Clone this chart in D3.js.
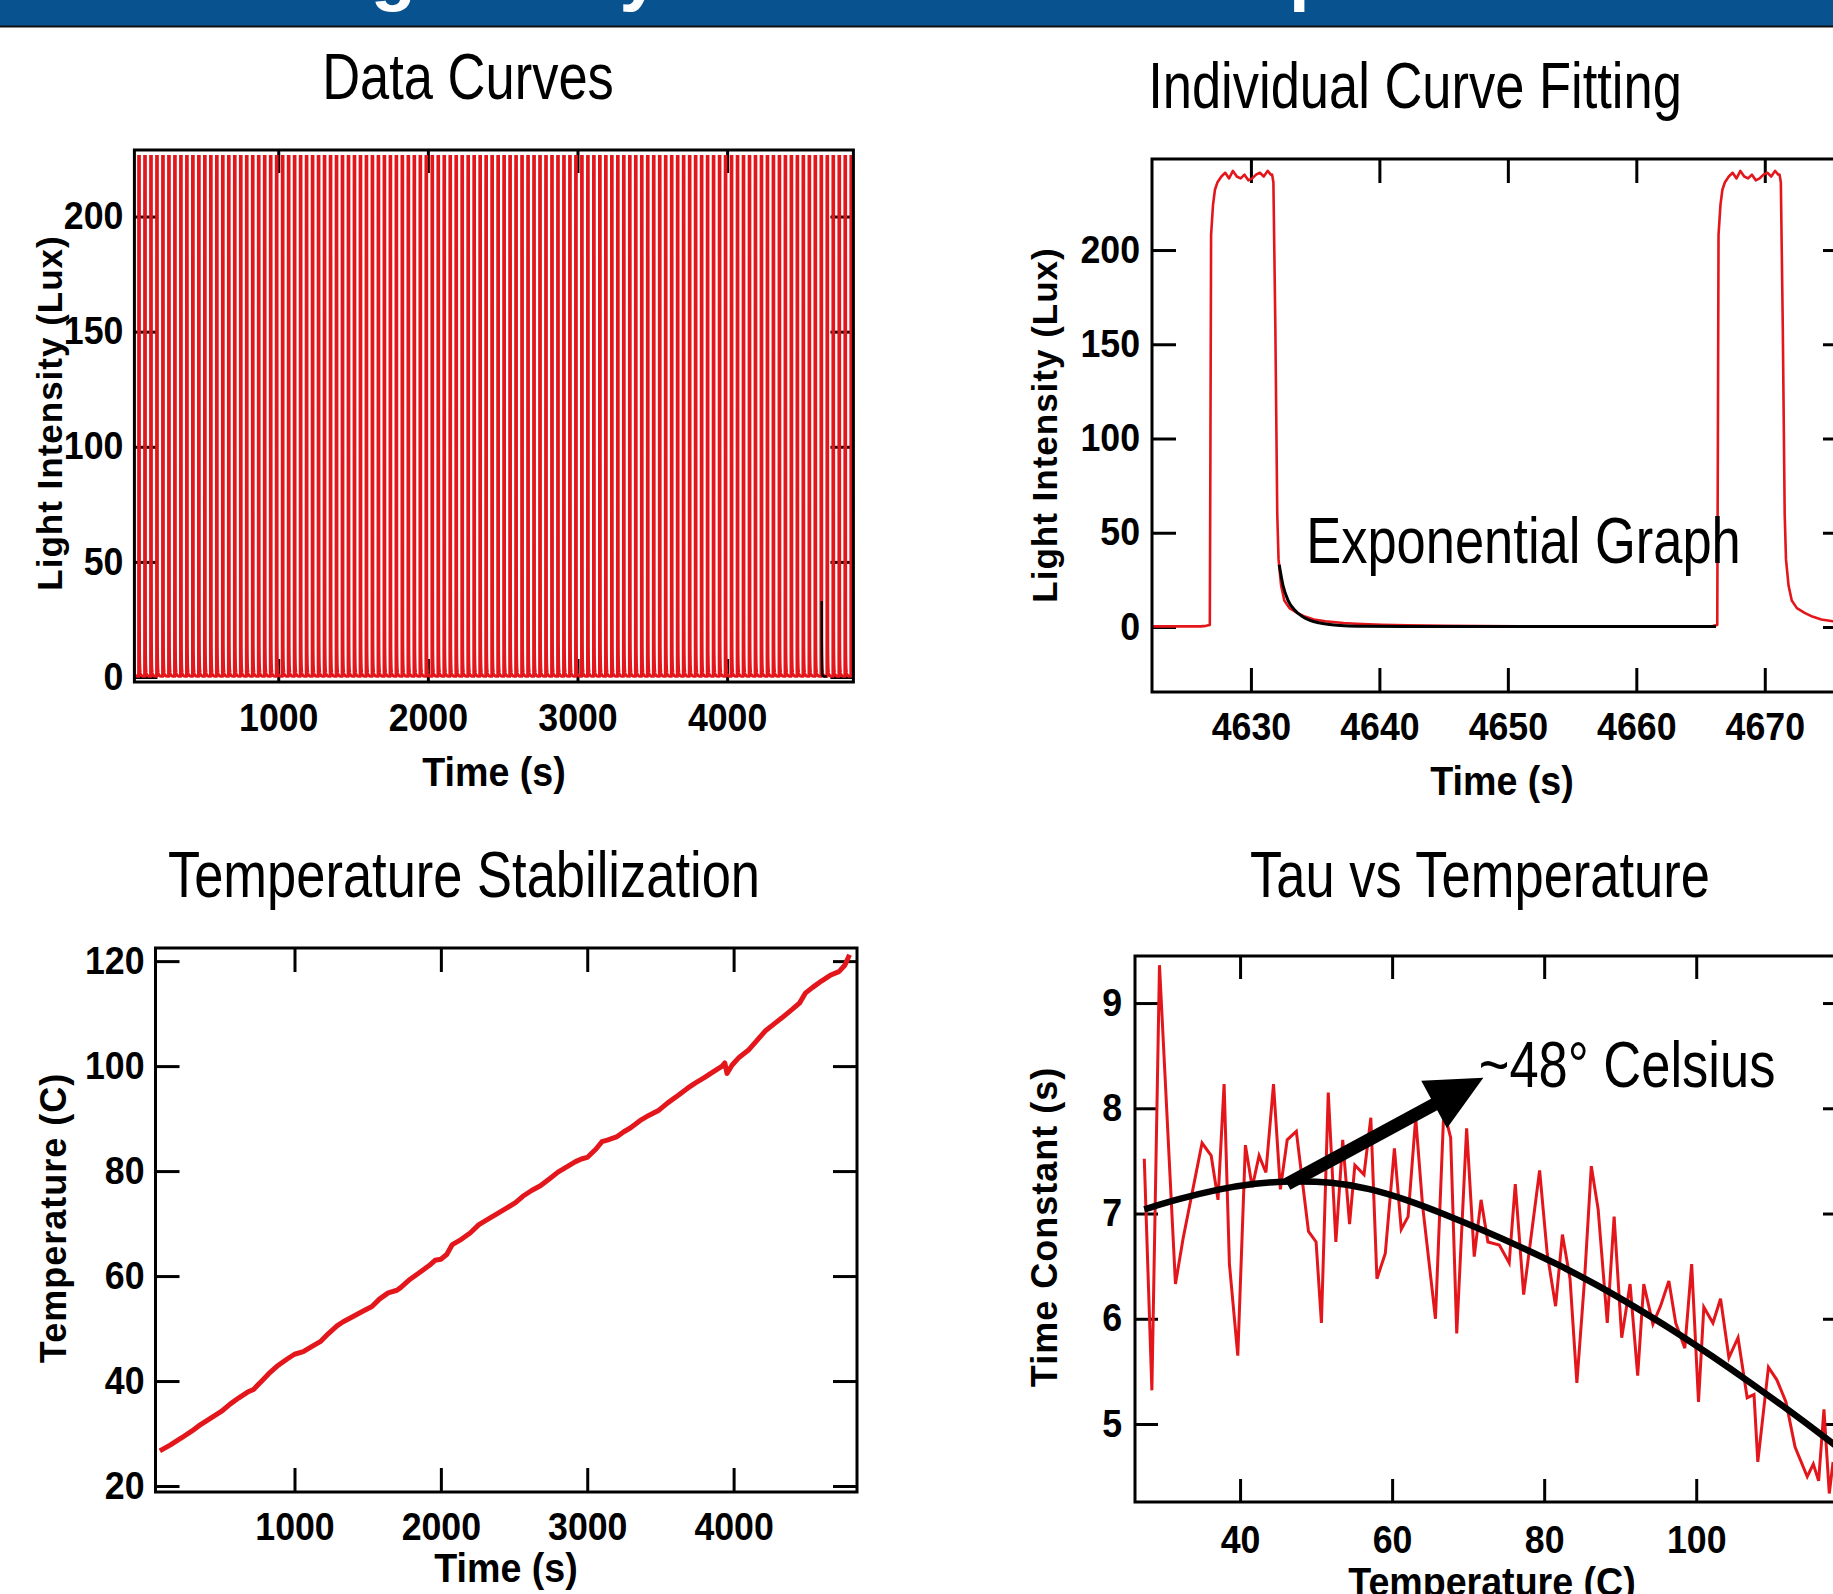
<!DOCTYPE html>
<html>
<head>
<meta charset="utf-8">
<script src="https://cdn.jsdelivr.net/npm/d3@7"></script>
<style>
  body { margin: 0; background: #fff; }
  svg { display: block; }
  text { font-family: 'Liberation Sans', Arial, sans-serif; }
</style>
</head>
<body>
<div id="chart"></div>
<script>
// ---- data ----

// slide header (only the bottom of the glyphs shows)
const headerText = 'Finding Decay Constant vs Temperature';

const panelTitles = ['Data Curves', 'Individual Curve Fitting', 'Temperature Stabilization', 'Tau vs Temperature'];

// onset time (s) of each light pulse in the full run
const pulseOnsets = [27, 67, 107, 147, 187, 227, 267, 307, 347, 387, 427, 467, 507, 547, 587, 627, 667, 707, 747, 787,
  827, 867, 907, 947, 987, 1027, 1067, 1107, 1147, 1187, 1227, 1267, 1307, 1347, 1387, 1427, 1467, 1507, 1547, 1587,
  1627, 1667, 1707, 1747, 1787, 1827, 1867, 1907, 1947, 1987, 2027, 2067, 2107, 2147, 2187, 2227, 2267, 2307, 2347, 2387,
  2427, 2467, 2507, 2547, 2587, 2627, 2667, 2707, 2747, 2787, 2827, 2867, 2907, 2947, 2987, 3027, 3067, 3107, 3147, 3187,
  3227, 3267, 3307, 3347, 3387, 3427, 3467, 3507, 3547, 3587, 3627, 3667, 3707, 3747, 3787, 3827, 3867, 3907, 3947, 3987,
  4027, 4067, 4107, 4147, 4187, 4227, 4267, 4307, 4347, 4387, 4427, 4467, 4507, 4547, 4587, 4627, 4667, 4707, 4747, 4787, 4827];

// one pulse, time after onset (s) and light (Lux)
const pulseDt = [-0.3, 0, 0.05, 0.1, 0.25, 0.4, 0.6, 0.9, 1.2, 1.5, 1.8, 2.1, 2.4, 2.7, 3.0, 3.3, 3.6, 3.9, 4.2, 4.5, 4.75,
  4.85, 4.95, 5.1, 5.25, 5.35, 5.55, 5.8, 6.2, 6.8, 7.4, 8.1, 9.0, 10.4, 11.4, 13.4, 15.4, 18.4, 24, 30, 39.3];
const pulseLux = [0.6, 1, 100, 208, 224, 232, 236, 239, 241, 238, 242, 239, 238, 240, 237, 238, 240, 241, 239, 242, 240,
  240, 236, 160, 60, 36, 22, 14, 10, 7.5, 5.5, 4, 3, 2.1, 1.7, 1.2, 0.9, 0.6, 0.4, 0.3, 0.3];

// exponential fit of the decay, same time base
const fitDt = [5.4, 5.7, 6.1, 6.6, 7.2, 7.8, 8.5, 9.5, 10.5, 12, 15, 20, 30, 39.4];
const fitLux = [33, 22, 14, 9, 5.5, 3.5, 2.2, 1.2, 0.7, 0.4, 0.25, 0.2, 0.2, 0.2];

const fitOnset = 4627;
const zoomOnsets = [4586.8, 4626.8, 4666.3];
const zoomFitOnset = 4626.8;

// temperature ramp
const tempTime = [80, 150, 230, 300, 353, 420, 500, 560, 620, 680, 720, 780, 824, 880, 950, 1000, 1060, 1120, 1176, 1230,
  1290, 1333, 1400, 1460, 1529, 1580, 1640, 1700, 1725, 1790, 1850, 1920, 1960, 2000, 2040, 2078, 2140, 2200, 2260, 2314,
  2380, 2440, 2510, 2560, 2620, 2680, 2745, 2800, 2860, 2920, 2960, 3000, 3060, 3100, 3137, 3200, 3250, 3294, 3360, 3420,
  3490, 3550, 3620, 3686, 3740, 3800, 3860, 3922, 3940, 3955, 3990, 4039, 4100, 4160, 4220, 4275, 4330, 4400, 4450, 4490,
  4540, 4600, 4660, 4720, 4760, 4792];
const tempC = [26.7, 27.8, 29.2, 30.5, 31.6, 32.8, 34.2, 35.6, 36.8, 37.9, 38.4, 40.1, 41.4, 42.8, 44.2, 45.1, 45.6, 46.6, 47.5, 49.0,
  50.5, 51.3, 52.3, 53.2, 54.2, 55.6, 56.8, 57.3, 57.8, 59.4, 60.6, 62.0, 63.0, 63.2, 64.1, 66.0, 67.0, 68.2, 69.8, 70.7,
  71.8, 72.8, 74.0, 75.2, 76.3, 77.2, 78.6, 79.8, 80.8, 81.8, 82.3, 82.6, 84.2, 85.6, 85.9, 86.5, 87.5, 88.2, 89.6, 90.6,
  91.6, 93.0, 94.4, 95.8, 96.8, 97.8, 98.9, 100.0, 100.6, 98.6, 100.2, 101.7, 103.0, 104.9, 106.8, 108.0, 109.2, 110.8, 112.0, 113.9,
  115.0, 116.2, 117.3, 118.0, 119.2, 121.2];

// fitted time constant per pulse
const tauTemp = [27.4, 28.4, 29.4, 31.5, 32.5, 35.0, 36.2, 37.1, 37.9, 38.6, 39.7, 40.7, 41.6, 42.5, 43.4, 44.4, 45.3, 46.2, 47.4, 49.0,
  50.0, 50.7, 51.6, 52.6, 53.5, 54.4, 55.1, 56.3, 57.2, 58.0, 59.1, 60.3, 61.2, 62.1, 63.1, 64.0, 65.7, 66.8, 67.7, 68.5,
  69.8, 70.8, 71.7, 72.6, 74.1, 75.4, 76.2, 77.3, 79.4, 80.4, 81.5, 82.4, 83.4, 84.3, 85.3, 86.2, 87.1, 88.3, 89.2, 90.2,
  91.3, 92.3, 93.1, 94.3, 95.3, 96.4, 97.3, 98.5, 99.4, 100.3, 101.0, 102.2, 103.2, 104.3, 105.5, 106.7, 107.6, 108.1, 109.5, 110.6,
  111.8, 113.0, 114.6, 115.4, 116.1, 116.8, 117.5, 118.0];
const tauSec = [7.52, 5.32, 9.36, 6.33, 6.76, 7.67, 7.55, 7.13, 8.23, 6.52, 5.65, 7.65, 7.25, 7.55, 7.39, 8.23, 7.23, 7.70, 7.78, 6.83,
  6.73, 5.96, 8.15, 6.73, 7.70, 6.90, 7.46, 7.37, 7.91, 6.38, 6.62, 7.62, 6.85, 6.97, 7.91, 7.08, 6.00, 7.98, 7.72, 5.86,
  7.81, 6.59, 7.13, 6.73, 6.70, 6.53, 7.28, 6.23, 7.41, 6.62, 6.12, 6.80, 6.38, 5.39, 6.36, 7.45, 7.04, 5.96, 6.97, 5.82,
  6.33, 5.46, 6.33, 5.95, 6.12, 6.36, 5.96, 5.72, 6.52, 5.21, 6.11, 5.96, 6.19, 5.63, 5.82, 5.25, 5.28, 4.64, 5.54, 5.42,
  5.21, 4.78, 4.50, 4.62, 4.46, 5.14, 4.34, 4.64];

const tauFitTemp = [27.4, 32, 37, 42, 47, 52, 57, 62, 67, 72, 77, 82, 87, 92, 97, 102, 107, 112, 117, 119.7];
const tauFitSec = [7.04, 7.14, 7.23, 7.29, 7.31, 7.30, 7.24, 7.13, 6.99, 6.84, 6.68, 6.51, 6.32, 6.11, 5.89, 5.65, 5.40, 5.14, 4.87, 4.72];

// annotation anchors in data units
const arrowTail = [46.2, 7.28];
const arrowTip = [72.0, 8.29];

// ---- drawing ----
const W = 1833, H = 1594;
const RED = '#e3161c';
const NARROW = 0.82, NARROW_BOLD = 0.94;
const svg = d3.select('#chart').append('svg').attr('width', W).attr('height', H);

// condensed text: Liberation Sans squeezed horizontally about its anchor
function label(x, y, str, size, opts = {}) {
  const sx = opts.bold ? NARROW_BOLD : NARROW;
  return svg.append('text')
    .attr('transform', `translate(${x},${y}) scale(${sx},1)`)
    .attr('text-anchor', opts.anchor || 'start')
    .attr('font-size', size).attr('font-weight', opts.bold ? 'bold' : null)
    .text(str);
}

// header bar
svg.append('clipPath').attr('id', 'hdr').append('rect').attr('x', 0).attr('y', 0).attr('width', W).attr('height', 26);
svg.append('rect').attr('x', 0).attr('y', 0).attr('width', W).attr('height', 26).attr('fill', '#08528f');
svg.append('text').attr('clip-path', 'url(#hdr)')
  .attr('x', 868).attr('y', -3).attr('text-anchor', 'middle').attr('letter-spacing', 1)
  .attr('font-size', 74).attr('font-weight', 'bold').attr('fill', '#fff').text(headerText);
svg.append('line').attr('x1', 0).attr('x2', W).attr('y1', 26.5).attr('y2', 26.5).attr('stroke', '#111').attr('stroke-width', 2);

function makePanel(p) {
  const x = d3.scaleLinear().domain(p.xDomain).range([p.left, p.right]);
  const y = d3.scaleLinear().domain(p.yDomain).range([p.bottom, p.top]);
  const g = svg.append('g');
  const clipId = 'clip-' + p.name;
  const clipTop = p.clipTop || p.top;
  svg.append('clipPath').attr('id', clipId).append('rect')
    .attr('x', p.left).attr('y', clipTop).attr('width', p.right - p.left).attr('height', p.bottom - clipTop);

  const tk = p.tick;
  const style = sel => {
    sel.select('.domain').remove();
    sel.selectAll('line').attr('stroke', '#000').attr('stroke-width', 3);
    sel.attr('font-family', null).attr('font-size', null);
    sel.selectAll('text').attr('font-size', p.tickFont).attr('font-weight', 'bold').attr('fill', '#000');
  };
  g.append('g').attr('transform', `translate(0,${p.bottom})`)
    .call(d3.axisBottom(x).tickValues(p.xTicks).tickSize(-tk).tickPadding(p.xPad).tickFormat(d3.format('d'))).call(style)
    .selectAll('text').attr('transform', `scale(${NARROW_BOLD},1)`);
  g.append('g').attr('transform', `translate(${p.left},0)`)
    .call(d3.axisLeft(y).tickValues(p.yTicks).tickSize(-tk).tickPadding(p.yPad).tickFormat(d3.format('d'))).call(style)
    .selectAll('text').attr('x', 0).attr('transform', `translate(${-p.yPad},0) scale(${NARROW_BOLD},1)`);
  g.append('g').attr('transform', `translate(0,${p.top})`)
    .call(d3.axisTop(x).tickValues(p.xTicks).tickSize(-tk).tickFormat('')).call(style);
  g.append('g').attr('transform', `translate(${p.right},0)`)
    .call(d3.axisRight(y).tickValues(p.yTicks).tickSize(-tk).tickFormat('')).call(style);

  const plot = g.append('g').attr('clip-path', `url(#${clipId})`);

  // title and axis labels
  label(p.titleX, p.titleY, p.title, 64, { anchor: 'middle' });
  label(p.xLabelX, p.xLabelY, p.xLabel, p.xLabelFont, { anchor: 'middle', bold: true });
  svg.append('text')
    .attr('transform', `translate(${p.yLabelX},${p.yLabelY}) rotate(-90)`)
    .attr('text-anchor', 'middle').attr('dominant-baseline', 'central')
    .attr('font-size', p.yLabelFont).attr('font-weight', 'bold').attr('letter-spacing', p.yLabelSpacing || 0).text(p.yLabel);

  const frame = () => g.append('rect').attr('x', p.left).attr('y', p.top)
    .attr('width', p.right - p.left).attr('height', p.bottom - p.top)
    .attr('fill', 'none').attr('stroke', '#000').attr('stroke-width', 3);
  return { x, y, plot, frame };
}

const line = (x, y) => d3.line().x(d => x(d[0])).y(d => y(d[1]));
const pulseTrain = onsets => onsets.flatMap(o => pulseDt.map((d, i) => [o + d, pulseLux[i]]));
const fitTrace = onset => fitDt.map((d, i) => [onset + d, fitLux[i]]);

// 1. Data Curves
{
  const P = makePanel({
    name: 'p1', left: 134.4, right: 853.4, top: 150, bottom: 682, clipTop: 155,
    xDomain: [38.7, 4844], yDomain: [-2.17, 228.9],
    xTicks: [1000, 2000, 3000, 4000], yTicks: [0, 50, 100, 150, 200],
    tick: 23, xPad: 22, yPad: 11, tickFont: 38,
    title: panelTitles[0], titleX: 468, titleY: 99,
    xLabel: 'Time (s)', xLabelX: 494, xLabelY: 786, xLabelFont: 40,
    yLabel: 'Light Intensity (Lux)', yLabelX: 49, yLabelY: 413, yLabelFont: 35, yLabelSpacing: 1
  });
  P.plot.append('path').datum(pulseTrain(pulseOnsets)).attr('d', line(P.x, P.y))
    .attr('fill', 'none').attr('stroke', RED).attr('stroke-width', 3);
  P.plot.append('path').datum(fitTrace(fitOnset)).attr('d', line(P.x, P.y))
    .attr('fill', 'none').attr('stroke', '#000').attr('stroke-width', 2.4);
  P.frame();
}

// 2. Individual Curve Fitting
{
  const P = makePanel({
    name: 'p2', left: 1152, right: 1847, top: 159, bottom: 692,
    xDomain: [4622.3, 4676.4], yDomain: [-34.5, 248.3],
    xTicks: [4630, 4640, 4650, 4660, 4670], yTicks: [0, 50, 100, 150, 200],
    tick: 24, xPad: 21, yPad: 12, tickFont: 38,
    title: panelTitles[1], titleX: 1415, titleY: 108,
    xLabel: 'Time (s)', xLabelX: 1502, xLabelY: 795, xLabelFont: 40,
    yLabel: 'Light Intensity (Lux)', yLabelX: 1044, yLabelY: 425, yLabelFont: 35, yLabelSpacing: 1
  });
  P.plot.append('path').datum(pulseTrain(zoomOnsets)).attr('d', line(P.x, P.y))
    .attr('fill', 'none').attr('stroke', RED).attr('stroke-width', 2.6).attr('stroke-linejoin', 'round');
  P.plot.append('path').datum(fitTrace(zoomFitOnset)).attr('d', line(P.x, P.y).curve(d3.curveMonotoneX))
    .attr('fill', 'none').attr('stroke', '#000').attr('stroke-width', 3);
  label(P.x(4634.3), P.y(34), 'Exponential Graph', 64);
  P.frame();
}

// 3. Temperature Stabilization
{
  const P = makePanel({
    name: 'p3', left: 155.5, right: 857, top: 948, bottom: 1492,
    xDomain: [50.4, 4843], yDomain: [18.86, 122.5],
    xTicks: [1000, 2000, 3000, 4000], yTicks: [20, 40, 60, 80, 100, 120],
    tick: 24, xPad: 21, yPad: 11, tickFont: 38,
    title: panelTitles[2], titleX: 464, titleY: 897,
    xLabel: 'Time (s)', xLabelX: 506, xLabelY: 1582, xLabelFont: 40,
    yLabel: 'Temperature (C)', yLabelX: 53, yLabelY: 1218, yLabelFont: 36, yLabelSpacing: 1
  });
  P.plot.append('path').datum(tempTime.map((t, i) => [t, tempC[i]])).attr('d', line(P.x, P.y))
    .attr('fill', 'none').attr('stroke', RED).attr('stroke-width', 5).attr('stroke-linejoin', 'round');
  P.frame();
}

// 4. Tau vs Temperature
{
  const P = makePanel({
    name: 'p4', left: 1135, right: 1846, top: 956, bottom: 1502,
    xDomain: [26.18, 119.7], yDomain: [4.259, 9.447],
    xTicks: [40, 60, 80, 100], yTicks: [5, 6, 7, 8, 9],
    tick: 23, xPad: 24, yPad: 13, tickFont: 38,
    title: panelTitles[3], titleX: 1480, titleY: 897,
    xLabel: 'Temperature (C)', xLabelX: 1492, xLabelY: 1596, xLabelFont: 40,
    yLabel: 'Time Constant (s)', yLabelX: 1044, yLabelY: 1227, yLabelFont: 36, yLabelSpacing: 1
  });
  P.plot.append('path').datum(tauTemp.map((t, i) => [t, tauSec[i]])).attr('d', line(P.x, P.y))
    .attr('fill', 'none').attr('stroke', RED).attr('stroke-width', 3);
  P.plot.append('path').datum(tauFitTemp.map((t, i) => [t, tauFitSec[i]]))
    .attr('d', line(P.x, P.y).curve(d3.curveBasis))
    .attr('fill', 'none').attr('stroke', '#000').attr('stroke-width', 6.5);

  // arrow towards the label
  const x0 = P.x(arrowTail[0]), y0 = P.y(arrowTail[1]);
  const x1 = P.x(arrowTip[0]), y1 = P.y(arrowTip[1]);
  const ang = Math.atan2(y1 - y0, x1 - x0);
  const len = Math.hypot(x1 - x0, y1 - y0);
  const headL = 56, headW = 27, shaft = 6.5;
  const pts = [[0, -shaft], [len - headL, -shaft], [len - headL, -headW], [len, 0], [len - headL, headW], [len - headL, shaft], [0, shaft]];
  svg.append('polygon')
    .attr('points', pts.map(p => p.join(',')).join(' '))
    .attr('transform', `translate(${x0},${y0}) rotate(${ang * 180 / Math.PI})`)
    .attr('fill', '#000');
  label(P.x(71.4), P.y(8.2), '~48° Celsius', 64);
  P.frame();
}
</script>
</body>
</html>
